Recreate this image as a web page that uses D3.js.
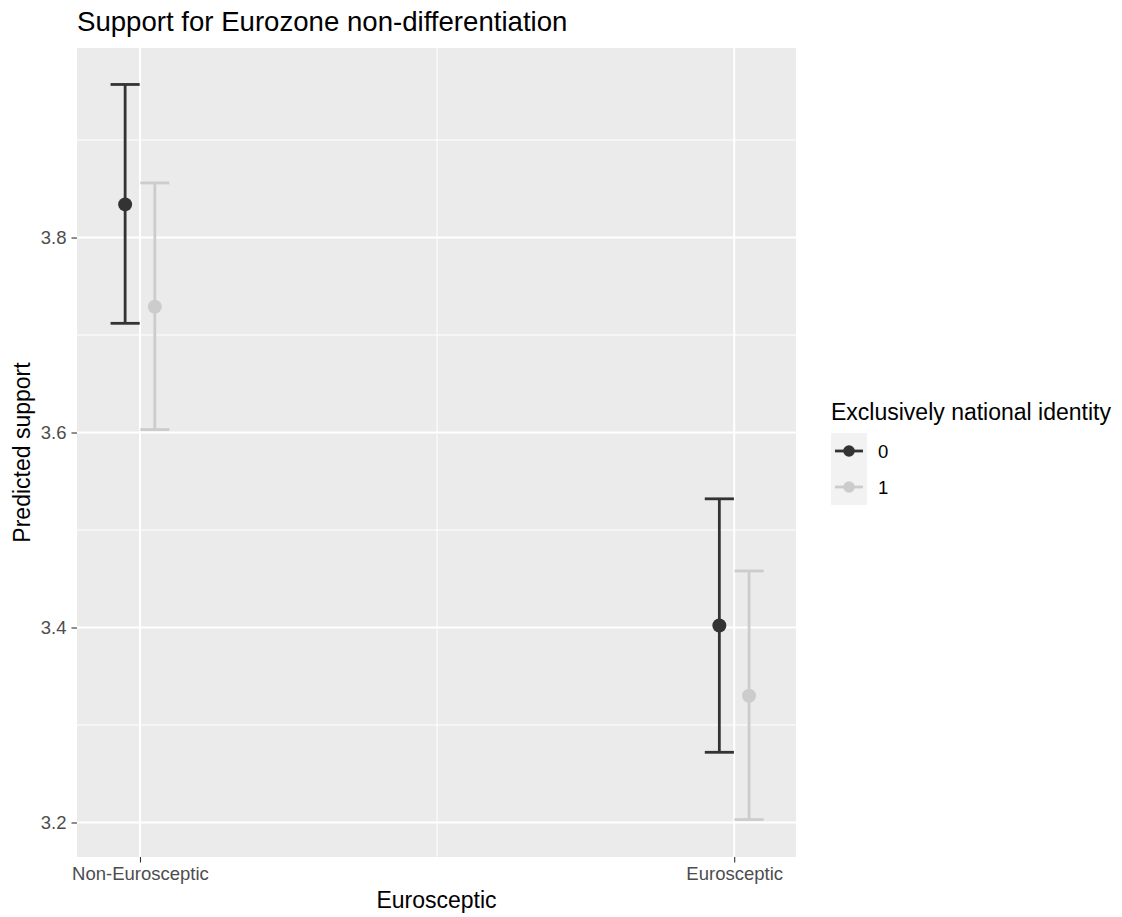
<!DOCTYPE html>
<html>
<head>
<meta charset="utf-8">
<script src="https://cdn.jsdelivr.net/npm/d3@7"></script>
<style>
  html, body { margin: 0; padding: 0; background: #ffffff; }
  svg { display: block; font-family: "Liberation Sans", Arial, Helvetica, sans-serif; }
</style>
</head>
<body>
<svg id="chart" width="1122" height="917"></svg>
<script>
// Predicted support with confidence intervals, by euroscepticism and identity group
const categories = ["Non-Eurosceptic", "Eurosceptic"];
const groups = ["0", "1"];
const groupColors = ["#333333", "#CCCCCC"];

const estimate0 = [3.834, 3.402];
const lower0 = [3.712, 3.272];
const upper0 = [3.957, 3.532];

const estimate1 = [3.729, 3.330];
const lower1 = [3.603, 3.203];
const upper1 = [3.856, 3.458];

const yTicks = [3.2, 3.4, 3.6, 3.8];
const yMinorTicks = [3.3, 3.5, 3.7, 3.9];

const chartTitle = "Support for Eurozone non-differentiation";
const xTitle = "Eurosceptic";
const yTitle = "Predicted support";
const legendTitle = "Exclusively national identity";

// Build rows from the arrays
const estimates = [estimate0, estimate1];
const lowers = [lower0, lower1];
const uppers = [upper0, upper1];
const rows = [];
groups.forEach((g, gi) => {
  categories.forEach((c, ci) => {
    rows.push({ group: g, gi, cat: c, ci, est: estimates[gi][ci], lo: lowers[gi][ci], hi: uppers[gi][ci] });
  });
});

const panel = { left: 77, right: 796, top: 48, bottom: 857 };
const svg = d3.select("#chart");

// Discrete positions 1..n on a continuous scale, expanded to leave room for dodged bars
const x = d3.scaleLinear().domain([0.894, 2.104]).range([panel.left, panel.right]);
const y = d3.scaleLinear().domain([3.1646, 3.9944]).range([panel.bottom, panel.top]);
const color = d3.scaleOrdinal().domain(groups).range(groupColors);

const dodge = 0.025;      // half distance between the two groups
const capHalf = 0.0245;   // half width of error bar caps
const xPos = d => x(d.ci + 1 + (d.gi === 0 ? -dodge : dodge));
const capPx = x(1 + capHalf) - x(1);

// Panel background
svg.append("rect")
  .attr("x", panel.left).attr("y", panel.top)
  .attr("width", panel.right - panel.left).attr("height", panel.bottom - panel.top)
  .attr("fill", "#EBEBEB");

// Minor grid
const grid = svg.append("g");
grid.selectAll("line.ymin").data(yMinorTicks).join("line")
  .attr("x1", panel.left).attr("x2", panel.right)
  .attr("y1", d => y(d)).attr("y2", d => y(d))
  .attr("stroke", "#ffffff").attr("stroke-width", 1);
grid.append("line")
  .attr("x1", x(1.5)).attr("x2", x(1.5))
  .attr("y1", panel.top).attr("y2", panel.bottom)
  .attr("stroke", "#ffffff").attr("stroke-width", 1);

// Major grid
grid.selectAll("line.ymaj").data(yTicks).join("line")
  .attr("x1", panel.left).attr("x2", panel.right)
  .attr("y1", d => y(d)).attr("y2", d => y(d))
  .attr("stroke", "#ffffff").attr("stroke-width", 2);
grid.selectAll("line.xmaj").data(categories).join("line")
  .attr("x1", (d, i) => x(i + 1)).attr("x2", (d, i) => x(i + 1))
  .attr("y1", panel.top).attr("y2", panel.bottom)
  .attr("stroke", "#ffffff").attr("stroke-width", 2);

// Y axis
const yAxis = d3.axisLeft(y).tickValues(yTicks).tickSize(5.5).tickPadding(5).tickFormat(d3.format(".1f"));
const gy = svg.append("g").attr("transform", `translate(${panel.left},0)`).call(yAxis);
gy.select(".domain").remove();
gy.selectAll(".tick line").attr("stroke", "#333333").attr("stroke-width", 1.1);
gy.selectAll(".tick text").attr("fill", "#4D4D4D").attr("font-size", "18.5px")
  .attr("font-family", "'Liberation Sans', Arial, Helvetica, sans-serif");

// X axis
const xAxis = d3.axisBottom(x).tickValues([1, 2]).tickSize(5.5).tickPadding(4)
  .tickFormat(d => categories[d - 1]);
const gx = svg.append("g").attr("transform", `translate(0,${panel.bottom})`).call(xAxis);
gx.select(".domain").remove();
gx.selectAll(".tick line").attr("stroke", "#333333").attr("stroke-width", 1.1);
gx.selectAll(".tick text").attr("fill", "#4D4D4D").attr("font-size", "18.5px")
  .attr("font-family", "'Liberation Sans', Arial, Helvetica, sans-serif");

// Error bars
const bars = svg.append("g").selectAll("g").data(rows).join("g")
  .attr("stroke", d => color(d.group)).attr("stroke-width", 2.8).attr("fill", "none");
bars.append("line")
  .attr("x1", xPos).attr("x2", xPos)
  .attr("y1", d => y(d.lo)).attr("y2", d => y(d.hi));
bars.append("line")
  .attr("x1", d => xPos(d) - capPx).attr("x2", d => xPos(d) + capPx)
  .attr("y1", d => y(d.hi)).attr("y2", d => y(d.hi));
bars.append("line")
  .attr("x1", d => xPos(d) - capPx).attr("x2", d => xPos(d) + capPx)
  .attr("y1", d => y(d.lo)).attr("y2", d => y(d.lo));

// Points
svg.append("g").selectAll("circle").data(rows).join("circle")
  .attr("cx", xPos).attr("cy", d => y(d.est)).attr("r", 7)
  .attr("fill", d => color(d.group));

// Titles
svg.append("text").attr("x", 77).attr("y", 31)
  .attr("font-size", "27.6px").attr("fill", "#000").text(chartTitle);
svg.append("text").attr("x", (panel.left + panel.right) / 2).attr("y", 908)
  .attr("text-anchor", "middle").attr("font-size", "23px").attr("fill", "#000").text(xTitle);
svg.append("text")
  .attr("transform", `translate(30,${(panel.top + panel.bottom) / 2}) rotate(-90)`)
  .attr("text-anchor", "middle").attr("font-size", "23px").attr("fill", "#000").text(yTitle);

// Legend
const legend = svg.append("g").attr("transform", "translate(831,0)");
legend.append("text").attr("x", 0).attr("y", 420)
  .attr("font-size", "23px").attr("fill", "#000").text(legendTitle);
const keyH = 36, keyW = 36, keyTop = 433;
const keys = legend.selectAll("g.key").data(groups).join("g")
  .attr("transform", (d, i) => `translate(0,${keyTop + i * keyH})`);
keys.append("rect").attr("width", keyW).attr("height", keyH).attr("fill", "#F2F2F2");
keys.append("line").attr("x1", 4).attr("x2", keyW - 4).attr("y1", keyH / 2).attr("y2", keyH / 2)
  .attr("stroke", d => color(d)).attr("stroke-width", 2.8);
keys.append("circle").attr("cx", keyW / 2).attr("cy", keyH / 2).attr("r", 5.8)
  .attr("fill", d => color(d));
keys.append("text").attr("x", keyW + 11).attr("y", keyH / 2 + 6.5)
  .attr("font-size", "18.5px").attr("fill", "#000").text(d => d);
</script>
</body>
</html>
